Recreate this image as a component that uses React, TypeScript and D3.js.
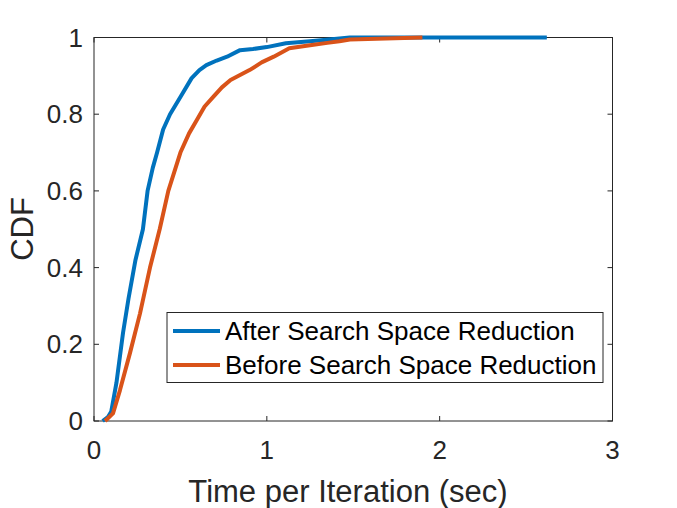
import React, { useEffect, useRef } from "react";
import * as d3 from "d3";

// CDF: time (sec) and cumulative fraction
const afterTime = [0.05, 0.08, 0.1, 0.13, 0.168, 0.2, 0.24, 0.283, 0.31, 0.34, 0.365, 0.4, 0.44, 0.5, 0.565, 0.61, 0.65, 0.71, 0.77, 0.845, 0.92, 1.0, 1.11, 1.25, 1.36, 1.48, 2.62];
const afterCdf = [0, 0.01, 0.025, 0.1, 0.23, 0.32, 0.42, 0.5, 0.6, 0.66, 0.7, 0.76, 0.8, 0.845, 0.894, 0.915, 0.928, 0.94, 0.95, 0.967, 0.97, 0.975, 0.985, 0.99, 0.995, 1, 1];

const beforeTime = [0.064, 0.11, 0.15, 0.208, 0.266, 0.324, 0.38, 0.43, 0.5, 0.55, 0.595, 0.64, 0.69, 0.74, 0.79, 0.9, 0.97, 1.04, 1.13, 1.25, 1.35, 1.42, 1.48, 1.9];
const beforeCdf = [0, 0.02, 0.08, 0.177, 0.28, 0.4, 0.5, 0.6, 0.7, 0.75, 0.785, 0.82, 0.845, 0.87, 0.889, 0.915, 0.935, 0.95, 0.972, 0.98, 0.986, 0.99, 0.995, 1];

const xTicks = [0, 1, 2, 3];
const yTicks = [0, 0.2, 0.4, 0.6, 0.8, 1];
const seriesNames = ["After Search Space Reduction", "Before Search Space Reduction"];
const seriesColors = ["#0072BD", "#D95319"];

const App = () => {
  const ref = useRef<SVGSVGElement>(null);

  useEffect(() => {
    const svg = d3.select(ref.current);
    svg.selectAll("*").remove();

    const left = 94, right = 612.5, top = 37.5, bottom = 421;
    const font = "'Liberation Sans', Arial, sans-serif";

    const x = d3.scaleLinear().domain([0, 3]).range([left, right]);
    const y = d3.scaleLinear().domain([0, 1]).range([bottom, top]);

    svg.append("rect").attr("width", 677).attr("height", 508).attr("fill", "#fff");

    // box
    svg.append("rect")
      .attr("x", left).attr("y", top)
      .attr("width", right - left).attr("height", bottom - top)
      .attr("fill", "#fff").attr("stroke", "#262626").attr("stroke-width", 1);

    const tickLen = 5;
    const g = svg.append("g").attr("stroke", "#262626").attr("stroke-width", 1);
    xTicks.forEach(t => {
      g.append("line").attr("x1", x(t)).attr("x2", x(t)).attr("y1", bottom).attr("y2", bottom - tickLen);
      g.append("line").attr("x1", x(t)).attr("x2", x(t)).attr("y1", top).attr("y2", top + tickLen);
    });
    yTicks.forEach(t => {
      g.append("line").attr("x1", left).attr("x2", left + tickLen).attr("y1", y(t)).attr("y2", y(t));
      g.append("line").attr("x1", right).attr("x2", right - tickLen).attr("y1", y(t)).attr("y2", y(t));
    });

    svg.selectAll(".xlab").data(xTicks).enter().append("text")
      .attr("x", d => x(d)).attr("y", 459)
      .attr("text-anchor", "middle")
      .attr("font-family", font).attr("font-size", 26).attr("fill", "#262626")
      .text(d => String(d));

    svg.selectAll(".ylab").data(yTicks).enter().append("text")
      .attr("x", 83).attr("y", d => y(d)).attr("dy", "0.35em")
      .attr("text-anchor", "end")
      .attr("font-family", font).attr("font-size", 26).attr("fill", "#262626")
      .text(d => String(d));

    svg.append("text")
      .attr("x", 348).attr("y", 502)
      .attr("text-anchor", "middle")
      .attr("font-family", font).attr("font-size", 31).attr("fill", "#262626")
      .text("Time per Iteration (sec)");

    svg.append("text")
      .attr("transform", `translate(33, 229) rotate(-90)`)
      .attr("text-anchor", "middle")
      .attr("font-family", font).attr("font-size", 31).attr("fill", "#262626")
      .text("CDF");

    const line = d3.line<[number, number]>().x(d => x(d[0])).y(d => y(d[1]));
    const after = afterTime.map((t, i) => [t, afterCdf[i]] as [number, number]);
    const before = beforeTime.map((t, i) => [t, beforeCdf[i]] as [number, number]);

    svg.append("path").datum(after)
      .attr("fill", "none").attr("stroke", seriesColors[0]).attr("stroke-width", 4)
      .attr("stroke-linejoin", "round")
      .attr("d", line);
    svg.append("path").datum(before)
      .attr("fill", "none").attr("stroke", seriesColors[1]).attr("stroke-width", 4)
      .attr("stroke-linejoin", "round")
      .attr("d", line);

    // legend
    const lg = svg.append("g");
    lg.append("rect")
      .attr("x", 167).attr("y", 312.5).attr("width", 436).attr("height", 70)
      .attr("fill", "#fff").attr("stroke", "#262626").attr("stroke-width", 1);
    seriesNames.forEach((name, i) => {
      const ly = 331 + i * 34;
      lg.append("line").attr("x1", 173).attr("x2", 220).attr("y1", ly).attr("y2", ly)
        .attr("stroke", seriesColors[i]).attr("stroke-width", 4);
      lg.append("text").attr("x", 225).attr("y", ly).attr("dy", "0.35em")
        .attr("font-family", font).attr("font-size", 26).attr("fill", "#000")
        .text(name);
    });
  }, []);

  return (
    <div style={{ position: "absolute", left: 0, top: 0, width: 677, height: 508 }}>
      <svg ref={ref} width={677} height={508} style={{ display: "block" }}></svg>
    </div>
  );
};

export default App;
